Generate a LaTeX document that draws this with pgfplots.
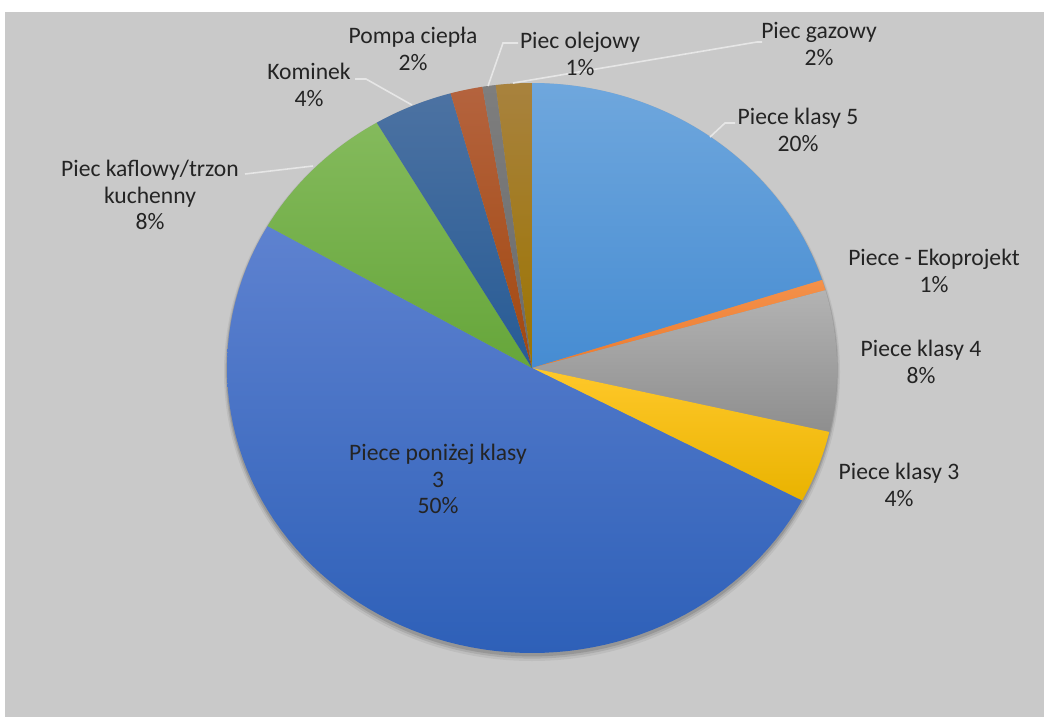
\documentclass[border=0pt]{standalone}
\usepackage{fontspec}
\setmainfont{Carlito}
\usepackage{pgfplots}
\pgfplotsset{compat=1.18}
\definecolor{bg}{HTML}{C9C9C9}
\definecolor{txt}{HTML}{242424}
\definecolor{lead}{HTML}{E6E6E6}
\definecolor{k5top}{HTML}{6FA7DD}\definecolor{k5bot}{HTML}{468CD2}
\definecolor{ekotop}{HTML}{F4914A}\definecolor{ekobot}{HTML}{EC7C30}
\definecolor{k4top}{HTML}{B3B3B3}\definecolor{k4bot}{HTML}{8E8E8E}
\definecolor{k3top}{HTML}{FFC82A}\definecolor{k3bot}{HTML}{E9B300}
\definecolor{pontop}{HTML}{5E82D0}\definecolor{ponbot}{HTML}{2E60B8}
\definecolor{kaftop}{HTML}{84BA5C}\definecolor{kafbot}{HTML}{66A63A}
\definecolor{komtop}{HTML}{4C72A2}\definecolor{kombot}{HTML}{275B95}
\definecolor{pomtop}{HTML}{B4633E}\definecolor{pombot}{HTML}{A2480F}
\definecolor{oletop}{HTML}{7E7E7E}\definecolor{olebot}{HTML}{6A6A6A}
\definecolor{gaztop}{HTML}{A8823E}\definecolor{gazbot}{HTML}{9C7400}
% share of each slice (percent), clockwise from 12 o'clock
\def\piedata{20.0/k5, 0.6/eko, 8.0/k4, 4.1/k3, 50.6/pon, 8.2/kaf, 4.2/kom, 1.7/pom, 0.7/ole, 1.9/gaz}
\begin{document}
\begin{tikzpicture}
\begin{axis}[
  width=522pt, height=358.5pt, scale only axis,
  xmin=0, xmax=1044, ymin=0, ymax=717, y dir=reverse,
  hide axis, clip=false,
]
\fill[white] (axis cs:0,0) rectangle (axis cs:1044,717);
\fill[bg] (axis cs:5,12) rectangle (axis cs:1044,717);
% soft shadow
\fill[black, opacity=0.06] (axis cs:532,372) ellipse [x radius=154pt, y radius=144.5pt];
\fill[black, opacity=0.09] (axis cs:532,371) ellipse [x radius=153.3pt, y radius=143.8pt];
\fill[black, opacity=0.12] (axis cs:532,370) ellipse [x radius=152.8pt, y radius=143.2pt];
\xdef\angA{90}
\foreach \v/\n in \piedata {
  \pgfmathsetmacro\angB{\angA-3.6*\v}
  \edef\temp{\noexpand\addplot[draw=none, top color=\n top, bottom color=\n bot, domain=\angB:\angA, samples=80] ({532+305*cos(x)},{368-285*sin(x)}) -- (axis cs:532,368) -- cycle;}
  \temp
  \xdef\angA{\angB}
}
% leader lines
\draw[lead, line width=0.8pt] (axis cs:355,79) -- (axis cs:366,79) -- (axis cs:412,105);
\draw[lead, line width=0.8pt] (axis cs:518,43) -- (axis cs:503,43) -- (axis cs:488,86);
\draw[lead, line width=0.8pt] (axis cs:513,83) -- (axis cs:757,42) -- (axis cs:762,42);
\draw[lead, line width=0.8pt] (axis cs:710,137) -- (axis cs:725,123) -- (axis cs:735,123);
\draw[lead, line width=0.8pt] (axis cs:245,174) -- (axis cs:313,166);
% labels
\tikzset{lbl/.style={text=txt, align=center, font=\fontsize{11.8}{13.3}\selectfont, inner sep=0pt}}
\node[lbl] at (axis cs:798,130) {Piece klasy 5\\20\%};
\node[lbl] at (axis cs:934,271) {Piece - Ekoprojekt\\1\%};
\node[lbl] at (axis cs:921,362) {Piece klasy 4\\8\%};
\node[lbl] at (axis cs:899,485) {Piece klasy 3\\4\%};
\node[lbl] at (axis cs:438,479) {Piece poniżej klasy\\3\\50\%};
\node[lbl] at (axis cs:150,195) {Piec kaflowy/trzon\\kuchenny\\8\%};
\node[lbl] at (axis cs:309,85) {Kominek\\4\%};
\node[lbl] at (axis cs:413,49) {Pompa ciepła\\2\%};
\node[lbl] at (axis cs:580,54) {Piec olejowy\\1\%};
\node[lbl] at (axis cs:819,44) {Piec gazowy\\2\%};
\end{axis}
\pgfresetboundingbox
\useasboundingbox (0,0) rectangle (522pt,358.5pt);
\end{tikzpicture}
\end{document}
